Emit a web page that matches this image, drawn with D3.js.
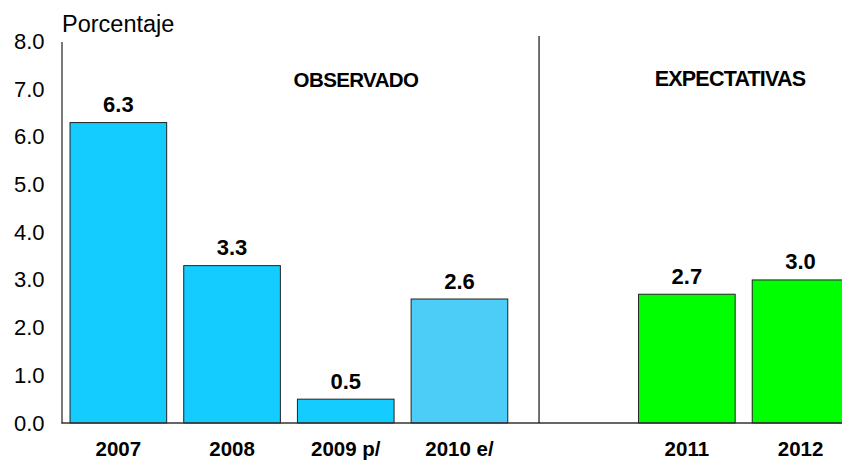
<!DOCTYPE html>
<html><head><meta charset="utf-8">
<script src="https://cdn.jsdelivr.net/npm/d3@7"></script>
<style>body{margin:0;background:#fff}svg{display:block;font-family:Arial,"Liberation Sans",sans-serif}</style>
</head><body><svg id="c" width="842" height="460"></svg>
<script>
const categories = ["2007", "2008", "2009 p/", "2010 e/", "", "2011", "2012"];
const values = [6.3, 3.3, 0.5, 2.6, null, 2.7, 3.0];
const barColors = ["#14CCFF", "#14CCFF", "#14CCFF", "#4CCDF8", null, "#00FF00", "#00FF00"];
const yTicks = [0, 1, 2, 3, 4, 5, 6, 7, 8];
const sectionLabels = ["OBSERVADO", "EXPECTATIVAS"];
const yTitle = "Porcentaje";

const svg = d3.select("#c");
const x0 = 61.5, step = 113.7;
const x = d3.scaleBand().domain(categories).range([x0, x0 + step * categories.length])
  .paddingInner(0.15).paddingOuter(0.075);
const y = d3.scaleLinear().domain([0, 8]).range([423, 41.5]);

// bars
categories.forEach((c, i) => {
  if (values[i] == null) return;
  svg.append("rect").attr("x", x(c)).attr("y", y(values[i]))
    .attr("width", x.bandwidth()).attr("height", y(0) - y(values[i]))
    .attr("fill", barColors[i]).attr("stroke", "#222").attr("stroke-width", 1);
  svg.append("text").attr("x", x(c) + x.bandwidth() / 2).attr("y", y(values[i]) - 10.5)
    .attr("text-anchor", "middle").attr("font-weight", "bold").attr("font-size", 22)
    .text(values[i].toFixed(1));
  svg.append("text").attr("x", x(c) + x.bandwidth() / 2).attr("y", 455.5)
    .attr("text-anchor", "middle").attr("font-weight", "bold").attr("font-size", 20.5)
    .text(c);
});

// y axis
const yAxis = d3.axisLeft(y).tickValues(yTicks).tickSize(0).tickPadding(17)
  .tickFormat(d => d.toFixed(1));
const g = svg.append("g").attr("transform", `translate(${x0},0)`).call(yAxis);
g.select(".domain").attr("stroke", "#333").attr("stroke-width", 1.3);
g.selectAll("text").attr("font-size", 22).attr("font-family", "Arial, 'Liberation Sans', sans-serif").attr("fill", "#000");

// baseline
svg.append("line").attr("x1", x0).attr("x2", 842).attr("y1", y(0)).attr("y2", y(0))
  .attr("stroke", "#333").attr("stroke-width", 1.5);

// divider
const xd = x0 + step * 4.2;
svg.append("line").attr("x1", xd).attr("x2", xd).attr("y1", 36).attr("y2", y(0))
  .attr("stroke", "#111").attr("stroke-width", 1.2);

// section labels
svg.append("text").attr("x", 356).attr("y", 86.5).attr("text-anchor", "middle")
  .attr("font-weight", "bold").attr("font-size", 20.5).attr("letter-spacing", -0.6).text(sectionLabels[0]);
svg.append("text").attr("x", 730).attr("y", 86).attr("text-anchor", "middle")
  .attr("font-weight", "bold").attr("font-size", 21.5).attr("letter-spacing", -0.8).text(sectionLabels[1]);

// y title
svg.append("text").attr("x", 62).attr("y", 31.5).attr("font-size", 23.5).text(yTitle);
</script></body></html>
